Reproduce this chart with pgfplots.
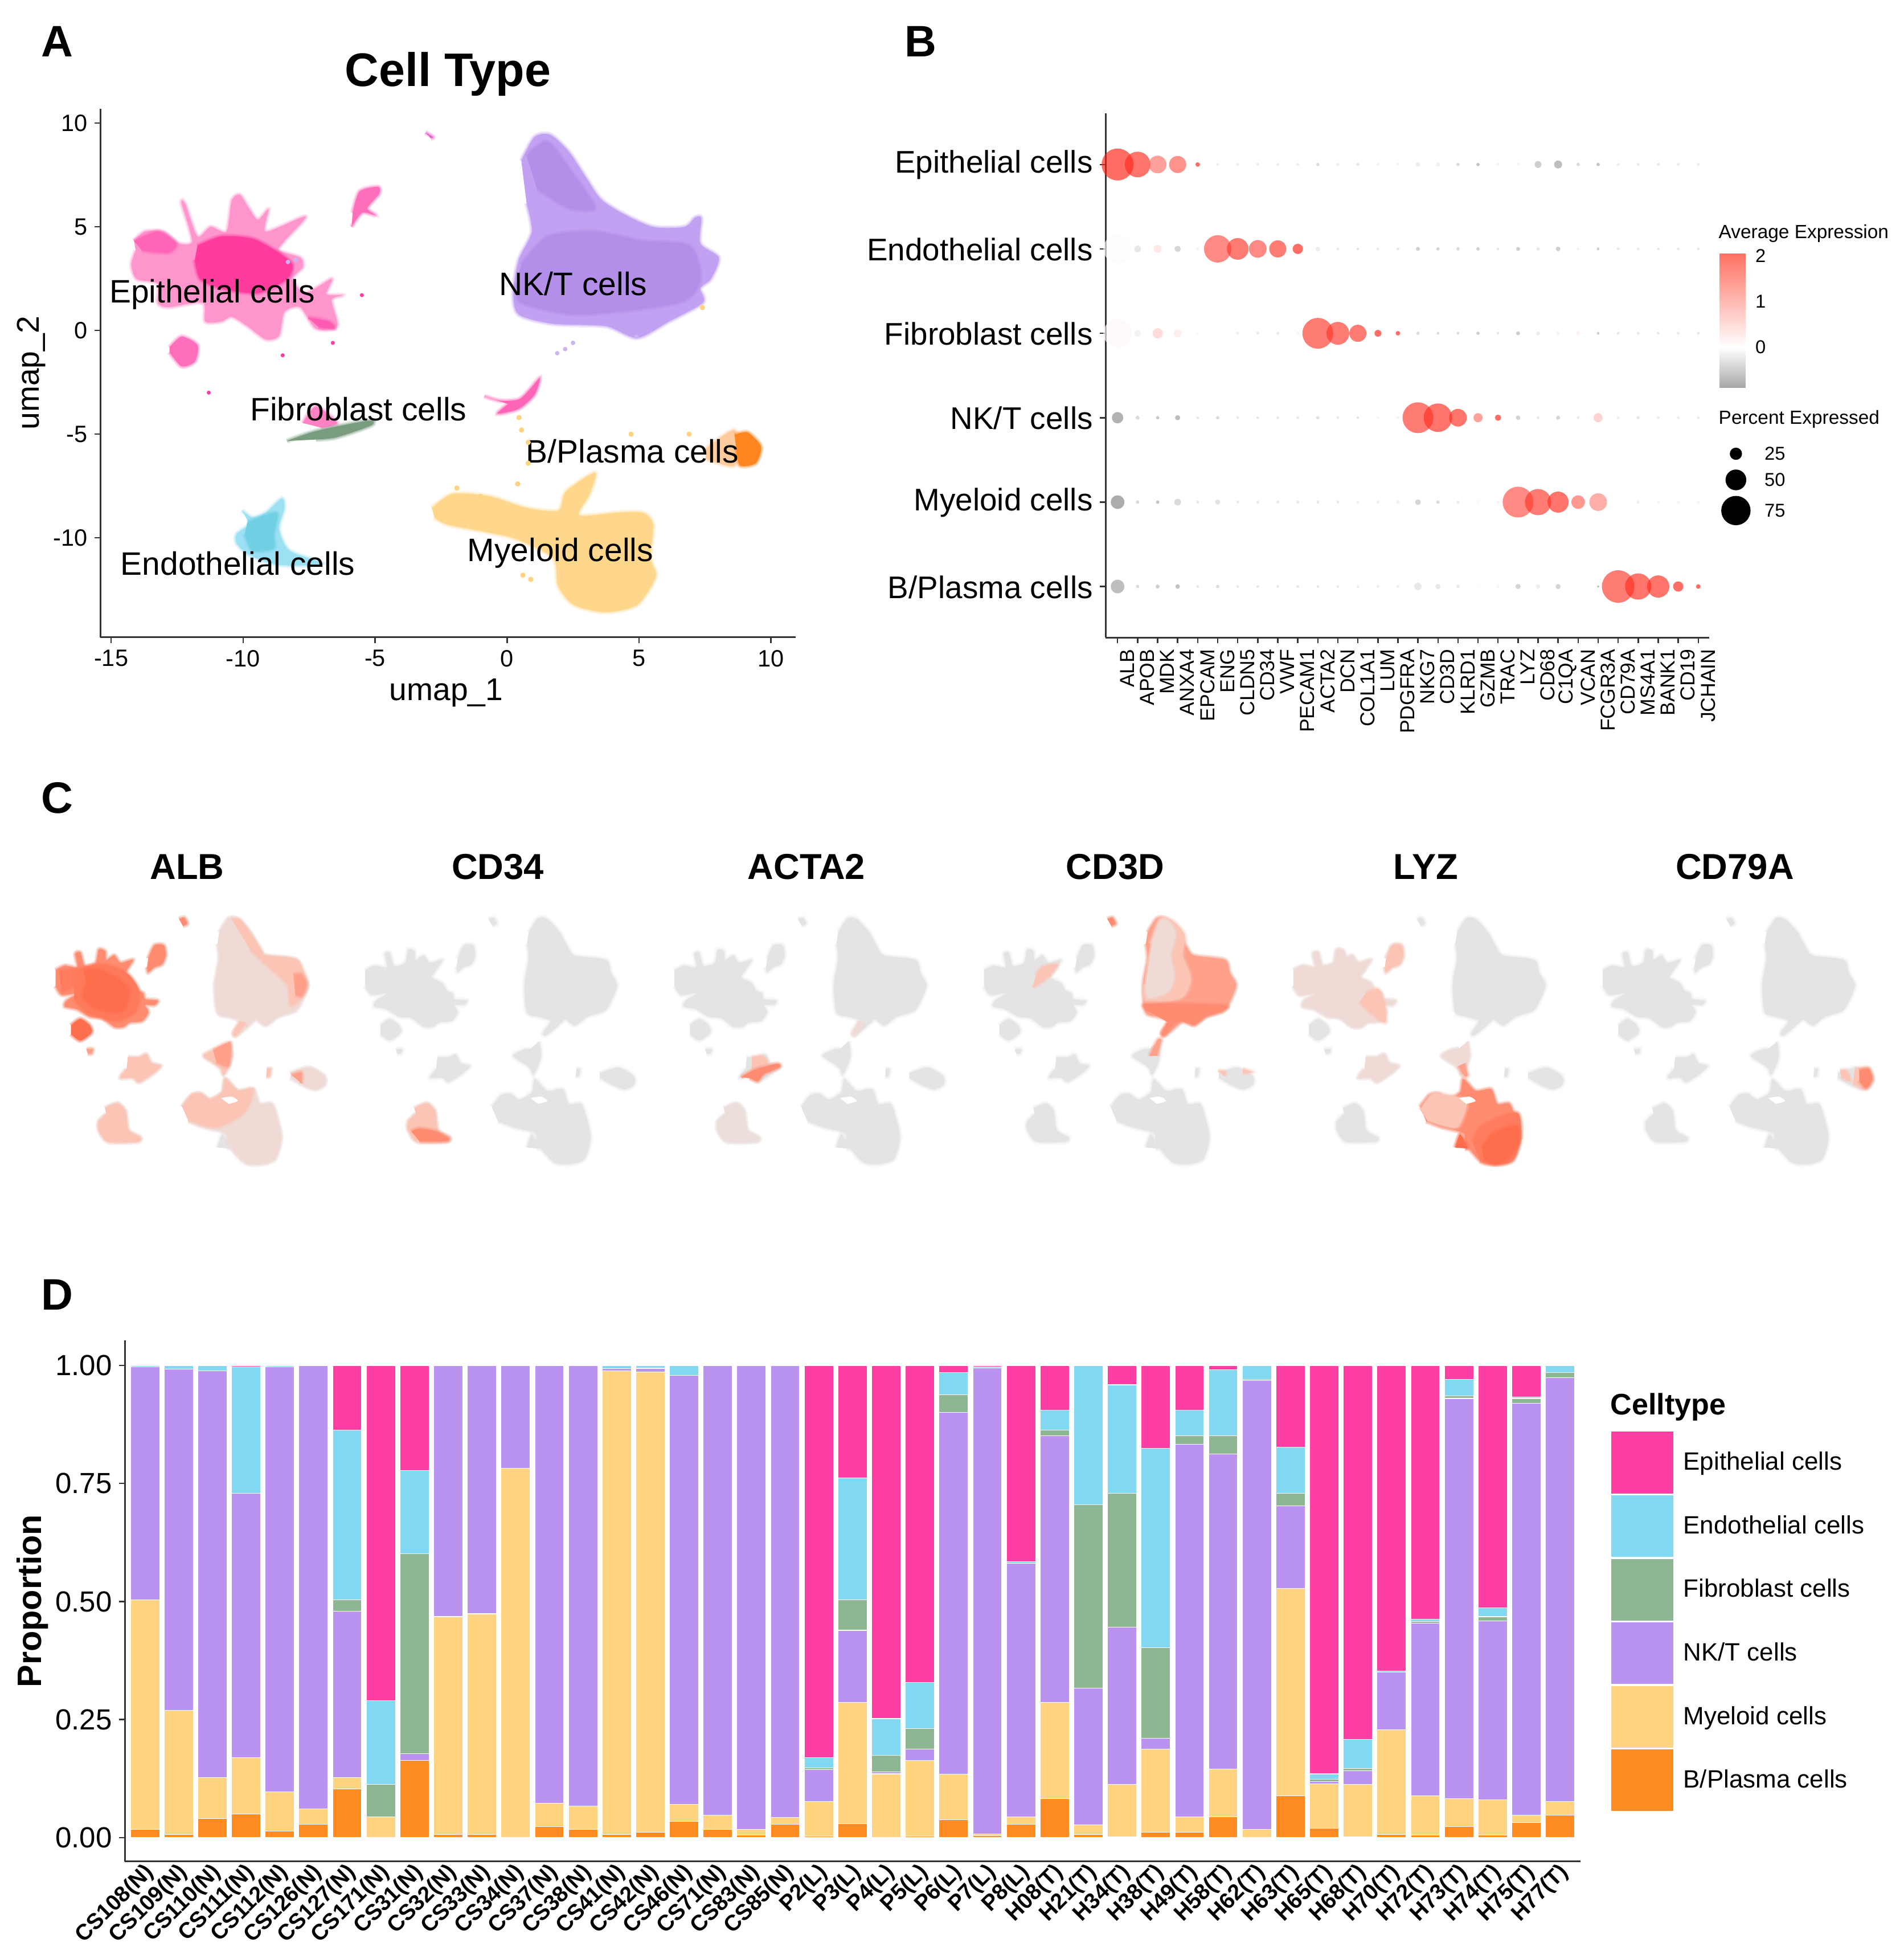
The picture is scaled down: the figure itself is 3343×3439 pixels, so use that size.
\documentclass[border=0pt]{standalone}
\usepackage{fontspec}
\setmainfont{Liberation Sans}
\usepackage{pgfplots}
\usepackage{pgfplotstable}
\pgfplotsset{compat=1.18}
\newcommand{\fs}[1]{\fontsize{#1}{#1}\selectfont}

% panel D / A colours
\definecolor{cEpi}{HTML}{FF3EA5}
\definecolor{cEndo}{HTML}{82D8F0}
\definecolor{cFib}{HTML}{8DB793}
\definecolor{cNK}{HTML}{BA93F0}
\definecolor{cMye}{HTML}{FFD37F}
\definecolor{cB}{HTML}{FF8C22}
\definecolor{axl}{HTML}{333333}
% panel C colours
\definecolor{ogray}{HTML}{E4E4E4}
\definecolor{oa}{HTML}{F0DAD5}
\definecolor{ob}{HTML}{FBC4B5}
\definecolor{oc}{HTML}{FFA08A}
\definecolor{od}{HTML}{FF8C70}
\definecolor{oe}{HTML}{FF6E4C}

\pgfplotsset{
  colormap={dots}{rgb255(0cm)=(95,95,95); rgb255(0.88cm)=(255,255,255); rgb255(2.94cm)=(255,25,10)},
  colormap={cbar}{rgb255(0cm)=(168,168,168); rgb255(0.88cm)=(255,255,255); rgb255(2.94cm)=(255,112,96)},
  gg/.style={
    scale only axis, axis lines=left, axis line style={-,draw=axl,line width=0.85pt},
    tick align=outside, major tick length=0.1cm, tick style={draw=axl,line width=0.7pt},
    clip=false},
  umapc/.style={
    scale only axis, axis lines=none, ticks=none, width=4.987cm, height=4.44cm,
    xmin=80, xmax=540, ymin=500, ymax=1370, y dir=reverse, anchor=south west, clip=false},
  blob/.style={no markers, smooth, tension=0.45, forget plot},
}

% ---- panel A clusters, umap coordinates
\pgfplotstableread[row sep=\\]{x y\\-14.13 4.31\\-13.73 4.76\\-13.03 4.76\\-12.43 4.19\\-11.93 4.31\\-12.33 6.13\\-12.19 6.08\\-11.73 4.53\\-11.23 4.99\\-10.63 4.76\\-10.43 6.24\\-10.13 6.54\\-9.79 5.90\\-9.44 5.33\\-9.04 5.83\\-9.14 4.76\\-7.64 5.49\\-8.44 4.31\\-8.64 3.85\\-7.84 3.51\\-7.74 3.05\\-8.14 2.48\\-7.64 1.80\\-6.65 2.48\\-6.85 1.75\\-6.25 1.69\\-6.65 1.46\\-6.44 0.21\\-7.24 0.09\\-7.84 1.12\\-8.44 0.89\\-8.64 -0.25\\-9.14 -0.43\\-9.84 0.21\\-10.43 0.66\\-10.83 0.43\\-11.43 0.43\\-11.53 1.34\\-12.83 1.12\\-13.23 1.34\\-13.23 2.26\\-14.03 2.48\\-14.23 3.17\\-14.07 3.85\\}\aEpi
\pgfplotstableread[row sep=\\]{x y\\-11.73 4.08\\-10.83 4.53\\-9.64 4.42\\-8.64 3.74\\-8.14 3.17\\-8.34 2.48\\-9.44 1.80\\-10.83 2.03\\-11.63 2.48\\-11.83 3.40\\}\aEpiCore
\pgfplotstableread[row sep=\\]{x y\\-14.13 4.31\\-13.23 4.76\\-12.53 4.19\\-12.83 3.74\\-13.83 3.85\\}\aEpiLeft
\pgfplotstableread[row sep=\\]{x y\\-7.54 0.62\\-6.74 0.43\\-6.54 0.09\\-7.14 0.16\\}\aEpiArm
\pgfplotstableread[row sep=\\]{x y\\-12.79 -0.82\\-12.33 -0.30\\-11.73 -0.71\\-11.83 -1.50\\-12.33 -1.73\\-12.79 -1.05\\}\aEpiLow
\pgfplotstableread[row sep=\\]{x y\\-5.85 5.67\\-5.59 6.70\\-4.89 6.92\\-4.85 6.58\\-5.29 5.90\\-4.99 5.56\\-5.49 5.67\\-5.89 4.99\\}\aEpiTop
\pgfplotstableread[row sep=\\]{x y\\-3.09 9.54\\-2.81 9.32\\-2.89 9.27\\}\aTiny
\pgfplotstableread[row sep=\\]{x y\\-0.86 -3.17\\-0.26 -3.39\\0.44 -3.33\\0.84 -2.87\\1.24 -2.30\\1.04 -3.10\\0.44 -3.78\\-0.36 -4.01\\0.04 -3.55\\}\aMid
\pgfplotstableread[row sep=\\]{x y\\-8.34 -5.33\\-7.24 -4.85\\-5.25 -4.35\\-5.15 -4.58\\-6.45 -5.15\\-7.24 -5.26\\}\aFib
\pgfplotstableread[row sep=\\]{x y\\-7.74 -4.46\\-7.24 -3.67\\-6.44 -4.46\\-7.04 -4.69\\}\aFibPink
\pgfplotstableread[row sep=\\]{x y\\-10.04 -8.68\\-9.64 -9.02\\-9.14 -8.79\\-8.54 -8.11\\-8.44 -8.56\\-8.64 -9.59\\-8.24 -10.62\\-7.04 -11.19\\-7.24 -11.30\\-8.64 -11.30\\-9.74 -10.84\\-10.24 -10.27\\-10.24 -9.82\\-9.74 -9.36\\}\aEndo
\pgfplotstableread[row sep=\\]{x y\\-9.84 -9.25\\-8.74 -8.79\\-8.84 -9.82\\-8.84 -10.50\\-9.64 -10.62\\-9.94 -9.82\\}\aEndoCore
\pgfplotstableread[row sep=\\]{x y\\0.54 8.18\\1.04 9.32\\1.64 9.43\\2.33 8.63\\2.93 7.49\\3.53 6.36\\4.33 5.67\\5.53 4.99\\6.72 4.99\\7.12 5.44\\7.36 5.40\\7.32 4.19\\8.02 3.51\\7.72 2.48\\7.32 2.03\\7.42 1.34\\6.13 0.43\\4.93 -0.36\\3.73 0.21\\1.74 0.32\\0.44 0.77\\0.24 1.80\\0.44 3.39\\0.94 4.76\\0.74 6.13\\}\aNK
\pgfplotstableread[row sep=\\]{x y\\0.54 3.17\\1.54 4.53\\3.33 4.76\\5.13 4.31\\6.92 4.08\\7.32 2.48\\6.52 1.34\\2.73 0.77\\0.54 1.34\\0.34 2.26\\}\aNKCore
\pgfplotstableread[row sep=\\]{x y\\0.74 8.41\\1.54 9.09\\2.53 7.49\\3.33 5.90\\2.33 5.90\\1.14 6.81\\}\aNKArm
\pgfplotstableread[row sep=\\]{x y\\-2.85 -8.56\\-2.05 -7.88\\-0.66 -8.00\\0.74 -8.56\\1.94 -8.68\\2.23 -7.77\\3.33 -6.86\\3.13 -7.88\\2.73 -8.91\\4.13 -8.79\\5.13 -8.79\\5.53 -9.36\\5.43 -10.96\\5.63 -11.87\\4.93 -13.23\\3.73 -13.58\\2.53 -13.23\\1.94 -12.32\\1.74 -10.96\\0.34 -10.05\\-0.86 -9.70\\-2.25 -9.36\\-2.75 -9.02\\}\aMye
\pgfplotstableread[row sep=\\]{x y\\8.62 -5.03\\9.12 -4.92\\9.62 -5.60\\9.42 -6.40\\8.82 -6.51\\8.68 -5.72\\}\aB
\pgfplotstableread[row sep=\\]{x y\\7.52 -5.72\\8.62 -4.81\\8.62 -6.51\\7.52 -6.17\\}\aBLight

% ---- panel B dots: gene index, cell type index, dot diameter, average expression
\pgfplotstableread[row sep=\\]{x y d v\\
0 5 56 2\\1 5 45 1.9\\2 5 31 1.3\\3 5 30 1.5\\4 5 8 2\\5 5 5 -.15\\6 5 5 -.15\\7 5 5 -.15\\8 5 5 -.15\\9 5 5 -.15\\10 5 6 -.3\\11 5 5 -.15\\12 5 6 -.2\\13 5 5 -.1\\14 5 5 -.1\\15 5 8 -.15\\16 5 8 -.1\\17 5 6 -.3\\18 5 6 -.5\\19 5 5 -.1\\20 5 5 -.1\\21 5 12 -.4\\22 5 14 -.55\\23 5 6 -.3\\24 5 6 -.5\\25 5 5 -.15\\26 5 5 -.2\\27 5 5 -.2\\28 5 5 -.2\\29 5 5 -.2\\
0 4 50 .04\\1 4 12 -.2\\2 4 14 .3\\3 4 11 -.35\\4 4 5 -.1\\5 4 48 1.6\\6 4 38 1.8\\7 4 31 1.6\\8 4 30 1.8\\9 4 18 2\\10 4 8 -.15\\11 4 5 -.2\\12 4 5 -.2\\13 4 5 -.2\\14 4 5 -.2\\15 4 7 -.4\\16 4 6 -.35\\17 4 6 -.3\\18 4 6 -.4\\19 4 5 -.2\\20 4 7 -.4\\21 4 6 -.2\\22 4 8 -.4\\23 4 5 -.1\\24 4 5 -.4\\25 4 5 -.2\\26 4 5 -.2\\27 4 5 -.2\\28 4 5 -.2\\29 4 5 -.2\\
0 3 50 .06\\1 3 12 -.1\\2 3 18 .5\\3 3 14 .25\\4 3 5 -.05\\5 3 3 0\\6 3 5 -.15\\7 3 5 -.2\\8 3 5 -.2\\9 3 5 -.1\\10 3 54 1.8\\11 3 40 1.8\\12 3 30 1.8\\13 3 12 2\\14 3 8 2\\15 3 6 -.3\\16 3 5 -.3\\17 3 5 -.3\\18 3 6 -.4\\19 3 5 -.2\\20 3 7 -.4\\21 3 7 -.15\\22 3 6 -.1\\23 3 8 .2\\24 3 5 -.4\\25 3 5 -.2\\26 3 5 -.2\\27 3 5 -.2\\28 3 5 -.2\\29 3 5 -.2\\
0 2 20 -.65\\1 2 7 -.3\\2 2 6 -.45\\3 2 9 -.55\\4 2 5 -.2\\5 2 6 -.3\\6 2 5 -.2\\7 2 5 -.2\\8 2 5 -.2\\9 2 5 -.2\\10 2 6 -.25\\11 2 5 -.2\\12 2 5 -.2\\13 2 4 -.1\\14 2 5 -.1\\15 2 54 1.8\\16 2 50 1.9\\17 2 31 1.9\\18 2 16 1.3\\19 2 11 2\\20 2 8 -.35\\21 2 5 -.2\\22 2 7 -.35\\23 2 5 -.2\\24 2 16 .6\\25 2 5 -.15\\26 2 6 -.2\\27 2 5 -.15\\28 2 5 -.15\\29 2 5 -.15\\
0 1 24 -.7\\1 1 6 -.3\\2 1 6 -.5\\3 1 12 -.3\\4 1 5 -.2\\5 1 9 -.25\\6 1 5 -.2\\7 1 5 -.2\\8 1 5 -.2\\9 1 5 -.2\\10 1 5 -.2\\11 1 5 -.2\\12 1 5 -.15\\13 1 5 -.15\\14 1 5 -.15\\15 1 10 -.35\\16 1 6 -.3\\17 1 5 -.2\\18 1 7 .1\\19 1 5 -.1\\20 1 54 1.6\\21 1 46 1.8\\22 1 37 1.9\\23 1 24 1.4\\24 1 31 1.1\\26 1 5 -.15\\27 1 5 -.1\\28 1 5 -.1\\29 1 5 -.1\\
0 0 24 -.55\\1 0 6 -.3\\2 0 7 -.4\\3 0 8 -.5\\4 0 5 -.2\\5 0 6 -.3\\6 0 5 -.2\\7 0 5 -.2\\8 0 5 -.2\\9 0 5 -.2\\10 0 5 -.2\\11 0 5 -.2\\12 0 5 -.15\\13 0 5 -.15\\14 0 5 -.15\\15 0 13 -.2\\16 0 9 -.2\\17 0 6 -.2\\18 0 6 .04\\19 0 5 -.1\\20 0 9 -.35\\21 0 8 -.15\\22 0 9 -.35\\24 0 4 -.5\\25 0 57 1.8\\26 0 46 1.9\\27 0 39 1.9\\28 0 18 2\\29 0 8 2\\
}\dotT

% ---- panel C outlines
\pgfplotstableread[row sep=\\]{x y\\90 690\\105 675\\125 680\\122 635\\130 630\\137 675\\155 665\\160 620\\170 625\\172 655\\185 640\\195 665\\215 655\\205 690\\198 715\\215 735\\222 760\\232 770\\235 790\\255 795\\250 810\\235 810\\240 835\\230 865\\210 870\\200 885\\185 885\\165 855\\145 850\\125 825\\105 815\\108 795\\125 770\\100 775\\90 745\\}\sE
\pgfplotstableread[row sep=\\]{x y\\115 880\\130 858\\145 880\\148 905\\130 932\\115 910\\}\sEb
\pgfplotstableread[row sep=\\]{x y\\140 962\\150 962\\148 977\\142 977\\}\sEc
\pgfplotstableread[row sep=\\]{x y\\240 650\\250 605\\265 605\\268 640\\262 670\\250 680\\240 697\\238 680\\}\sEd
\pgfplotstableread[row sep=\\]{x y\\290 515\\298 510\\303 530\\296 538\\}\sEe
\pgfplotstableread[row sep=\\]{x y\\355 560\\370 512\\385 515\\405 560\\418 610\\430 640\\480 655\\488 700\\498 740\\490 790\\478 830\\450 850\\430 880\\415 860\\408 870\\395 895\\382 915\\378 905\\390 865\\370 850\\352 835\\348 740\\355 650\\352 600\\}\sN
\pgfplotstableread[row sep=\\]{x y\\372 935\\375 980\\370 1020\\362 1050\\358 1030\\350 1015\\330 985\\345 965\\358 960\\}\sM
\pgfplotstableread[row sep=\\]{x y\\207 990\\225 990\\237 980\\245 1010\\260 1020\\245 1050\\225 1075\\215 1060\\195 1060\\205 1030\\}\sF
\pgfplotstableread[row sep=\\]{x y\\170 1165\\190 1148\\203 1175\\208 1240\\227 1265\\222 1280\\175 1280\\160 1240\\160 1210\\172 1185\\}\sO
\pgfplotstableread[row sep=\\]{x y\\470 1045\\500 1025\\525 1055\\525 1085\\510 1100\\490 1085\\470 1060\\}\sB
\pgfplotstableread[row sep=\\]{x y\\432 1030\\438 1030\\436 1055\\431 1055\\}\sBb
\pgfplotstableread[row sep=\\]{x y\\295 1160\\310 1120\\325 1115\\340 1135\\360 1110\\365 1065\\385 1105\\410 1100\\420 1150\\440 1150\\450 1210\\455 1270\\445 1340\\420 1358\\395 1350\\370 1290\\365 1250\\330 1230\\305 1210\\}\sY
\pgfplotstableread[row sep=\\]{x y\\352 1300\\360 1255\\372 1300\\368 1303\\}\sYb
\pgfplotstableread[row sep=\\]{x y\\358 1130\\375 1125\\385 1140\\370 1150\\}\sHole

% filled outline with a soft edge: a wide faint stroke, a narrower one, then the fill
\newcommand{\blob}[2]{%
  \addplot[blob,draw=#1,draw opacity=0.22,line width=2.6pt] table {#2};
  \addplot[blob,draw=#1,draw opacity=0.4,line width=1.3pt,fill=#1] table {#2};}
\newcommand{\soft}[2]{%
  \addplot[blob,draw=#1,draw opacity=0.22,line width=2.6pt] table[row sep=\\] {#2};
  \addplot[blob,draw=#1,draw opacity=0.4,line width=1.3pt,fill=#1] table[row sep=\\] {#2};}
\newcommand{\basemap}{%
  \blob{ogray}{\sE}\blob{ogray}{\sEb}\blob{ogray}{\sEc}\blob{ogray}{\sEd}\blob{ogray}{\sEe}%
  \blob{ogray}{\sN}\blob{ogray}{\sM}\blob{ogray}{\sF}\blob{ogray}{\sO}\blob{ogray}{\sB}%
  \blob{ogray}{\sBb}\blob{ogray}{\sY}\blob{ogray}{\sYb}}
\newcommand{\hole}{\addplot[blob,draw=none,fill=white] table {\sHole};}

% ---- panel D proportions, one row per sample
\pgfplotstableread{
i B M N F E P
0 .017 .486 .494 0 .003 0
1 .006 .264 .722 0 .008 0
2 .04 .087 .862 0 .011 0
3 .05 .119 .56 0 .268 .003
4 .014 .083 .90 0 .003 0
5 .028 .033 .939 0 0 0
6 .103 .024 .353 .023 .36 .137
7 0 .044 0 .069 .177 .71
8 .163 0 .015 .423 .176 .223
9 .007 .461 .532 0 0 0
10 .007 .467 .526 0 0 0
11 0 .782 .218 0 0 0
12 .023 .05 .927 0 0 0
13 .017 .05 .933 0 0 0
14 .007 .982 .004 0 .007 0
15 .011 .975 .008 0 .006 0
16 .034 .036 .909 0 .021 0
17 .017 .031 .952 0 0 0
18 .005 .012 .983 0 0 0
19 .028 .015 .957 0 0 0
20 .003 .073 .068 .004 .021 .831
21 .029 .257 .153 .064 .259 .238
22 0 .135 .004 .035 .078 .748
23 .003 .16 .025 .043 .098 .671
24 .038 .096 .766 .038 .047 .015
25 .004 .004 .987 0 .002 .003
26 .028 .016 .537 0 .003 .416
27 .082 .204 .565 .012 .042 .095
28 .007 .02 .29 .388 .295 0
29 .002 .111 .333 .283 .23 .041
30 .011 .176 .023 .192 .422 .176
31 .011 .033 .789 .018 .054 .095
32 .044 .101 .667 .039 .14 .009
33 0 .017 .951 .003 .029 0
34 .088 .44 .175 .026 .098 .173
35 .02 .094 .005 .005 .011 .865
36 .002 .111 .029 .005 .061 .792
37 .007 .221 .122 0 .003 .647
38 .005 .084 .365 .004 .005 .537
39 .023 .059 .848 .006 .034 .03
40 .005 .075 .379 .009 .019 .513
41 .032 .016 .872 .01 .003 .067
42 .047 .03 .897 .011 .015 0
}\propT

\begin{document}
\begin{tikzpicture}[x=0.01cm,y=-0.01cm]
\path[use as bounding box] (0,0) rectangle (3343,3439);

% panel letters
\node[inner sep=0,font=\fs{22}\bfseries] at (100,73) {A};
\node[inner sep=0,font=\fs{22}\bfseries] at (1616,73) {B};
\node[inner sep=0,font=\fs{22}\bfseries] at (100,1401) {C};
\node[inner sep=0,font=\fs{22}\bfseries] at (100,2273) {D};

% ---------------- A
\begin{axis}[gg, at={(1.76cm,-11.18cm)}, anchor=south west, width=12.2cm, height=9.27cm,
  xmin=-15.41, xmax=10.93, ymin=-14.79, ymax=10.68,
  xtick={-15,-10,-5,0,5,10}, xticklabels={-15,-10,-5,0,5,10},
  ytick={-10,-5,0,5,10}, yticklabels={-10,-5,0,5,10},
  tick label style={font=\fs{11.8}},
  title={Cell Type}, title style={font=\fs{23.5}\bfseries, at={(axis description cs:0.5,1.043)}, anchor=center},
  xlabel={umap\_1}, xlabel style={font=\fs{15.7}, at={(axis description cs:0.4975,-0.105)}, anchor=center},
  ylabel={umap\_2}, ylabel style={font=\fs{15.7}, at={(axis description cs:-0.099,0.5)}, anchor=center},
]
\blob{cEpi!55!white}{\aEpi}
\blob{cEpi!80!white}{\aEpiLeft}
\blob{cEpi!85!white}{\aEpiArm}
\blob{cEpi!75!white}{\aEpiLow}
\blob{cEpi!75!white}{\aEpiTop}
\blob{cEpi!60!cNK}{\aTiny}
\blob{cEpi!80!white}{\aMid}
\blob{cEpi!65!white}{\aFibPink}
\blob{cFib!85!black}{\aFib}
\blob{cEndo!80!white}{\aEndo}
\blob{cEndo!92!cyan!95!black}{\aEndoCore}
\blob{cNK!88!white}{\aNK}
\blob{cNK!97!black}{\aNKCore}
\blob{cNK!97!black}{\aNKArm}
\blob{cMye!90!white}{\aMye}
\blob{cB!45!white}{\aBLight}
\blob{cB!95!red}{\aB}
\blob{cEpi!95!red}{\aEpiCore}
% stray cells
\addplot[only marks,mark=*,mark size=0.8pt,color=cEpi,forget plot] coordinates {(-11.3,-3) (-5.5,1.7) (-6.6,-0.6) (-8.5,-1.2)};
\addplot[only marks,mark=*,mark size=1.1pt,color=cMye,forget plot] coordinates {(0.45,-4.2) (0.55,-4.8) (0.8,-5.4) (0.8,-6.4) (0.4,-7.4) (0.6,-11.8) (0.9,-12) (-1.9,-7.6) (7.4,1.1) (4.7,-5) (6.9,-5) (-1.0,-8.0)};
\addplot[only marks,mark=*,mark size=0.9pt,color=cNK!70!white,forget plot] coordinates {(2.5,-0.6) (2.2,-0.9) (1.9,-1.1) (4.9,-0.3) (-8.0,3.4) (-8.3,3.3)};
\node[font=\fs{16.2}] at (axis cs:-11.17,1.75) {Epithelial cells};
\node[font=\fs{16.2}] at (axis cs:2.51,2.26) {NK/T cells};
\node[font=\fs{16.2}] at (axis cs:-5.63,-3.78) {Fibroblast cells};
\node[font=\fs{16.2}] at (axis cs:4.75,-5.83) {B/Plasma cells};
\node[font=\fs{16.2}] at (axis cs:2.02,-10.73) {Myeloid cells};
\node[font=\fs{16.2}] at (axis cs:-10.2,-11.23) {Endothelial cells};
\end{axis}

% ---------------- B
\begin{axis}[gg, at={(19.4cm,-11.186cm)}, anchor=south west, width=10.59cm, height=9.196cm,
  xmin=-0.6, xmax=29.54, ymin=-0.605, ymax=5.605,
  xtick={0,...,29},
  xticklabels={ALB,APOB,MDK,ANXA4,EPCAM,ENG,CLDN5,CD34,VWF,PECAM1,ACTA2,DCN,COL1A1,LUM,PDGFRA,NKG7,CD3D,KLRD1,GZMB,TRAC,LYZ,CD68,C1QA,VCAN,FCGR3A,CD79A,MS4A1,BANK1,CD19,JCHAIN},
  xticklabel style={font=\fs{10.1}, rotate=90, anchor=east, xshift=0.02cm, yshift=-0.17cm},
  ytick={0,...,5},
  yticklabels={B/Plasma cells,Myeloid cells,NK/T cells,Fibroblast cells,Endothelial cells,Epithelial cells},
  yticklabel style={font=\fs{15.6}, yshift=-0.01cm},
  colormap name=dots, point meta min=-0.88, point meta max=2.06,
]
\addplot[scatter, only marks, mark=*, point meta=explicit,
  scatter/use mapped color={draw opacity=0, fill=mapped color, fill opacity=0.65},
  visualization depends on={\thisrow{d}*0.1423 \as \dotr},
  scatter/@pre marker code/.append style={/tikz/mark size=\dotr},
] table[x=x,y=y,meta=v] {\dotT};
% size key
\addplot[only marks, mark=*, color=black,
  visualization depends on={\thisrow{d}*0.1423 \as \dotr},
  scatter, scatter/use mapped color={draw=black, fill=black}, point meta=0,
  scatter/@pre marker code/.append style={/tikz/mark size=\dotr},
] table[row sep=\\] {x y d\\30.88 1.573 20\\30.88 1.263 35\\30.88 0.90 50\\};
\node[font=\fs{9.3}] at (axis cs:32.83,1.573) {25};
\node[font=\fs{9.3}] at (axis cs:32.83,1.263) {50};
\node[font=\fs{9.3}] at (axis cs:32.83,0.90) {75};
\end{axis}
\node[anchor=west,inner sep=0,font=\fs{9.5}] at (3017,410) {Average Expression};
\node[anchor=west,inner sep=0,font=\fs{9.5}] at (3017,736) {Percent Expressed};

% colour bar of B
\begin{axis}[scale only axis, at={(30.17cm,-6.8cm)}, anchor=south west, width=0.46cm, height=2.36cm,
  view={0}{90}, colormap name=cbar, point meta min=-0.88, point meta max=2.06,
  xmin=0, xmax=1, ymin=-0.88, ymax=2.06,
  axis x line=none, axis y line*=right, y axis line style={draw=none},
  xtick=\empty, ytick={0,1,2}, yticklabels={0,1,2}, major tick length=0,
  yticklabel style={font=\fs{9.3}, xshift=0.05cm},
]
\addplot3[surf, shader=interp, mesh/cols=2, point meta=explicit] table[row sep=\\, x=x, y=y, z=z, meta=y] {x y z\\0 -0.88 0\\1 -0.88 0\\0 0 0\\1 0 0\\0 2.06 0\\1 2.06 0\\};
\end{axis}

% ---------------- C
\foreach \t/\cx in {ALB/328.5,CD34/874,ACTA2/1416,CD3D/1958,LYZ/2503,CD79A/3046}
  \node[font=\fs{18}\bfseries,inner sep=0] at (\cx,1522) {\t};

\begin{axis}[umapc, at={(0.867cm,-20.49cm)}]
\basemap
\blob{od}{\sE}\blob{oe}{\sEb}\blob{od}{\sEd}\blob{od}{\sEe}\blob{oc}{\sEc}
\soft{oe!60!od}{x y\\120 690\\165 670\\205 700\\225 760\\220 830\\190 865\\145 840\\120 790\\}
\soft{oe}{x y\\135 690\\160 690\\190 720\\208 755\\205 810\\190 835\\155 820\\135 780\\140 740\\}
\soft{oe!50!od}{x y\\95 695\\120 690\\122 740\\100 765\\}
\blob{oa}{\sN}
\soft{ob}{x y\\375 515\\390 520\\420 610\\430 640\\480 655\\498 740\\485 790\\470 810\\465 740\\430 670\\405 620\\}
\soft{oc}{x y\\475 705\\488 705\\496 740\\488 780\\478 775\\}
\soft{ob}{x y\\398 870\\382 915\\378 905\\388 865\\}
\blob{ob}{\sM}
\soft{oc}{x y\\345 965\\372 940\\370 1020\\350 1005\\}
\blob{ob}{\sF}\blob{ob}{\sO}\blob{oa}{\sB}\blob{ob}{\sBb}
\soft{oc}{x y\\472 1050\\488 1042\\488 1080\\}
\blob{oa}{\sY}
\soft{ob}{x y\\295 1160\\310 1120\\325 1115\\340 1135\\360 1110\\365 1065\\385 1105\\410 1100\\395 1180\\350 1230\\305 1205\\}
\hole
\end{axis}

\begin{axis}[umapc, at={(6.297cm,-20.49cm)}]
\basemap
\blob{ob}{\sO}
\soft{od}{x y\\165 1245\\178 1235\\205 1245\\225 1268\\220 1278\\178 1278\\}
\hole
\end{axis}

\begin{axis}[umapc, at={(11.727cm,-20.49cm)}]
\basemap
\soft{ob}{x y\\215 990\\232 985\\240 1010\\215 1030\\}
\soft{od}{x y\\198 1058\\220 1032\\256 1012\\260 1024\\235 1048\\225 1072\\212 1062\\}
\soft{oa}{x y\\398 870\\382 915\\378 905\\388 865\\}
\blob{oa!60!ogray}{\sO}
\hole
\end{axis}

\begin{axis}[umapc, at={(17.157cm,-20.49cm)}]
\basemap
\blob{oc}{\sN}\blob{od}{\sEe}
\soft{ob}{x y\\359 600\\374 515\\395 520\\415 570\\412 640\\425 720\\410 785\\354 805\\349 740\\}
\soft{oa}{x y\\362 600\\376 520\\390 525\\400 570\\392 640\\398 710\\388 765\\356 785\\352 740\\}
\soft{od}{x y\\355 830\\354 805\\478 810\\476 830\\450 848\\430 876\\408 866\\395 878\\}
\soft{od}{x y\\398 870\\382 915\\378 905\\388 865\\}
\soft{ob}{x y\\174 710\\184 680\\209 672\\194 715\\169 750\\}
\soft{oc}{x y\\358 985\\371 930\\377 932\\370 985\\}
\soft{ob}{x y\\469 1035\\481 1040\\479 1055\\}
\soft{ob}{x y\\509 1030\\524 1040\\509 1045\\}
\hole
\end{axis}

\begin{axis}[umapc, at={(22.587cm,-20.49cm)}]
\basemap
\blob{oa}{\sE}\blob{ob}{\sEd}\blob{oa}{\sM}\blob{oa}{\sF}\blob{od}{\sY}
\soft{ob}{x y\\295 1170\\312 1120\\327 1115\\370 1140\\360 1220\\347 1232\\307 1208\\}
\soft{oe!50!od}{x y\\380 1280\\395 1225\\452 1180\\458 1270\\445 1345\\418 1358\\392 1345\\}
\soft{oe}{x y\\395 1300\\415 1250\\450 1225\\456 1270\\440 1335\\416 1356\\398 1340\\}
\blob{oe}{\sYb}
\soft{ob}{x y\\207 770\\227 755\\237 800\\239 870\\217 840\\197 800\\}
\soft{oa}{x y\\162 620\\172 625\\178 670\\160 670\\}
\soft{oc}{x y\\357 1020\\367 1055\\372 1050\\367 1010\\}
\hole
\end{axis}

\begin{axis}[umapc, at={(28.017cm,-20.49cm)}]
\basemap
\soft{ob}{x y\\474 1035\\484 1035\\491 1070\\476 1060\\}
\soft{ob}{x y\\498 1030\\520 1025\\527 1065\\516 1100\\495 1080\\}
\soft{od}{x y\\505 1035\\520 1030\\526 1065\\516 1095\\505 1070\\}
\hole
\end{axis}

% ---------------- D
\begin{axis}[gg, at={(2.19cm,-32.66cm)}, anchor=south west, width=25.54cm, height=9.14cm,
  ybar stacked, bar width=0.86,
  xmin=-0.6, xmax=42.6, ymin=-0.0507, ymax=1.0526,
  xtick={0,...,42}, xtick style={draw=none},
  xticklabels={CS108(N),CS109(N),CS110(N),CS111(N),CS112(N),CS126(N),CS127(N),CS171(N),CS31(N),CS32(N),CS33(N),CS34(N),CS37(N),CS38(N),CS41(N),CS42(N),CS46(N),CS71(N),CS83(N),CS85(N),P2(L),P3(L),P4(L),P5(L),P6(L),P7(L),P8(L),H08(T),H21(T),H34(T),H38(T),H49(T),H58(T),H62(T),H63(T),H65(T),H68(T),H70(T),H72(T),H73(T),H74(T),H75(T),H77(T)},
  xticklabel style={font=\fs{11.1}\bfseries, rotate=45, anchor=north east, inner sep=1pt, xshift=0.08cm, yshift=0.14cm},
  ytick={0,0.25,0.5,0.75,1}, yticklabels={0.00,0.25,0.50,0.75,1.00},
  yticklabel style={font=\fs{14.5}},
  ylabel={Proportion}, ylabel style={font=\fs{16.9}\bfseries, at={(axis description cs:-0.0635,0.5)}, anchor=center},
  legend cell align=left, reverse legend,
  legend image code/.code={\path[#1,draw=none] (0cm,-0.54cm) rectangle (1.09cm,0.54cm);},
  legend style={at={(1.0211,0.825)}, anchor=north west, draw=none, fill=none, font=\fs{12.5},
    row sep=0.035cm, inner sep=0pt, outer sep=0pt,
    nodes={inner xsep=0.18cm, inner ysep=0pt}},
]
\addplot[fill=cB,draw=white,line width=0.3pt] table[x=i,y=B] {\propT};
\addplot[fill=cMye,draw=white,line width=0.3pt] table[x=i,y=M] {\propT};
\addplot[fill=cNK,draw=white,line width=0.3pt] table[x=i,y=N] {\propT};
\addplot[fill=cFib,draw=white,line width=0.3pt] table[x=i,y=F] {\propT};
\addplot[fill=cEndo,draw=white,line width=0.3pt] table[x=i,y=E] {\propT};
\addplot[fill=cEpi,draw=white,line width=0.3pt] table[x=i,y=P] {\propT};
\legend{B/Plasma cells,Myeloid cells,NK/T cells,Fibroblast cells,Endothelial cells,Epithelial cells}
\end{axis}
\node[anchor=west,inner sep=0,font=\fs{14.8}\bfseries] at (2827,2470) {Celltype};
\end{tikzpicture}
\end{document}
